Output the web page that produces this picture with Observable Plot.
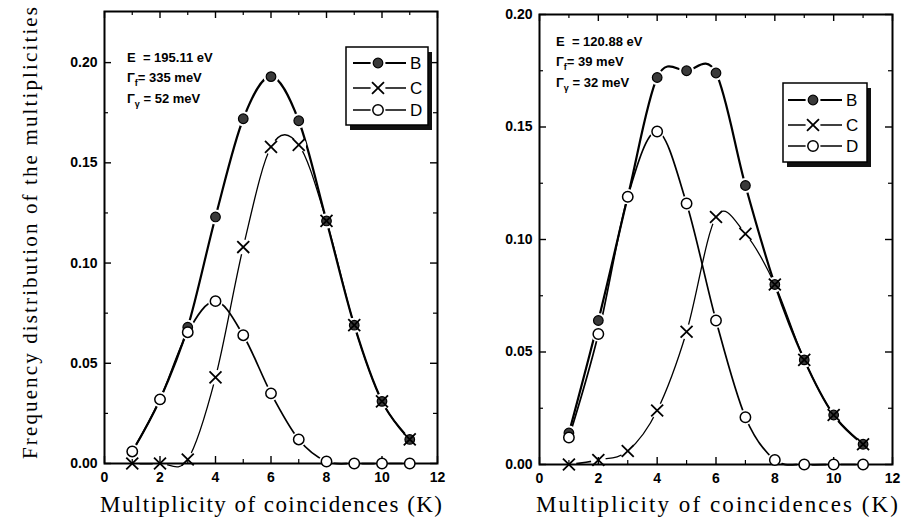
<!DOCTYPE html>
<html>
<head>
<meta charset="utf-8">
<script src="https://cdn.jsdelivr.net/npm/d3@7"></script>
<script src="https://cdn.jsdelivr.net/npm/@observablehq/plot@0.6"></script>
<style>
  body { margin: 0; background: #fff; }
  #chart { position: relative; width: 908px; height: 519px; overflow: hidden; background: #fff; }
  #chart > svg { position: absolute; top: 0; }
  #overlay { left: 0; pointer-events: none; }
</style>
</head>
<body>
<div id="chart"></div>
<script>
// ---------------- data ----------------
const K = [1, 2, 3, 4, 5, 6, 7, 8, 9, 10, 11];
const seriesNames = ["B", "C", "D"];

// Left panel: E = 195.11 eV
const leftB = [0.006, 0.032, 0.068, 0.123, 0.172, 0.193, 0.171, 0.121, 0.069, 0.031, 0.012];
const leftC = [0.000, 0.000, 0.002, 0.043, 0.108, 0.158, 0.159, 0.121, 0.069, 0.031, 0.012];
const leftD = [0.006, 0.032, 0.0655, 0.081, 0.064, 0.035, 0.012, 0.001, 0.000, 0.000, 0.000];

// Right panel: E = 120.88 eV
const rightB = [0.014, 0.064, 0.119, 0.172, 0.175, 0.174, 0.124, 0.080, 0.0465, 0.022, 0.009];
const rightC = [0.000, 0.002, 0.006, 0.024, 0.059, 0.110, 0.1025, 0.080, 0.0465, 0.022, 0.009];
const rightD = [0.012, 0.058, 0.119, 0.148, 0.116, 0.064, 0.021, 0.002, 0.000, 0.000, 0.000];

const xTickLabels = [0, 2, 4, 6, 8, 10, 12];
const xMinorTicks = [1, 3, 5, 7, 9, 11];
const yTickLabels = [0.00, 0.05, 0.10, 0.15, 0.20];
const yMinorTicks = [0.025, 0.075, 0.125, 0.175];

const leftParams = [["E", "", "  = 195.11 eV"], ["Γ", "f", "= 335 meV"], ["Γ", "γ", " = 52 meV"]];
const rightParams = [["E", "", "  = 120.88 eV"], ["Γ", "f", "= 39 meV"], ["Γ", "γ", " = 32 meV"]];

const xTitle = "Multiplicity of coincidences (K)";
const yTitle = "Frequency distribution of the multiplicities";

// ---------------- styles / layout ----------------
const seriesStyle = {
  B: {lineWidth: 2.2, symbol: "circle", r: 4.8, fill: "#3a3a3a", stroke: "#000", sw: 1.2},
  C: {lineWidth: 1.3, symbol: "times", r: 5.5, fill: "none", stroke: "#000", sw: 1.8},
  D: {lineWidth: 1.7, symbol: "circle", r: 5.2, fill: "#fff", stroke: "#000", sw: 1.5}
};

const panels = [
  {values: {B: leftB, C: leftC, D: leftD}, params: leftParams, ymax: 0.2255,
   left: 0, width: 480, ml: 104, mr: 43, mt: 11, mb: 56,
   ann: {x: 127, y: 62, dy: 20.3},
   legend: {x: 346, y: 47, w: 82, h: 78, rows: [63, 88, 110], lx0: 353, lx1: 406, mx: 378, tx: 410},
   xt: {cx: 271, len: 342}},
  {values: {B: rightB, C: rightC, D: rightD}, params: rightParams, ymax: 0.2,
   left: 480, width: 428, ml: 59, mr: 16, mt: 14, mb: 55,
   ann: {x: 556, y: 45.5, dy: 20.5},
   legend: {x: 783, y: 83, w: 84, h: 79, rows: [100, 125, 146], lx0: 788, lx1: 842, mx: 813, tx: 846},
   xt: {cx: 717, len: 362}}
];

const H = 519;
const chart = document.getElementById("chart");

for (const p of panels) {
  const fw = p.width - p.ml - p.mr;
  const fh = H - p.mt - p.mb;
  const data = seriesNames.map(s => K.map((k, i) => ({k, v: p.values[s][i], s})));
  const all = data.flat();
  const major = 7, minor = 4;
  const markerOrder = ["B", "C", "D"];

  const plot = Plot.plot({
    width: p.width, height: H,
    marginLeft: p.ml, marginRight: p.mr, marginTop: p.mt, marginBottom: p.mb,
    style: "font: bold 14px 'Liberation Sans', Arial, sans-serif; background: transparent; color: #000; overflow: visible;",
    x: {domain: [0, 12]},
    y: {domain: [0, p.ymax]},
    marks: [
      // curves
      ...["D", "C", "B"].map(s => Plot.line(data[seriesNames.indexOf(s)], {
        x: "k", y: "v", curve: "cardinal", stroke: "#000", strokeWidth: seriesStyle[s].lineWidth
      })),
      // white halos that break the lines around markers
      Plot.dot(all, {x: "k", y: "v", r: 7.5, fill: "#fff", stroke: "none"}),
      // frame & ticks
      Plot.frame({stroke: "#000", strokeWidth: 2}),
      Plot.ruleX(xTickLabels, {x: d => d, insetTop: fh - major, stroke: "#000", strokeWidth: 1.4}),
      Plot.ruleX(xMinorTicks, {x: d => d, insetTop: fh - minor, stroke: "#000", strokeWidth: 1.2}),
      Plot.ruleX(xTickLabels, {x: d => d, insetBottom: fh - major, stroke: "#000", strokeWidth: 1.4}),
      Plot.ruleX(xMinorTicks, {x: d => d, insetBottom: fh - minor, stroke: "#000", strokeWidth: 1.2}),
      Plot.ruleY(yTickLabels, {y: d => d, insetRight: fw - major, stroke: "#000", strokeWidth: 1.4}),
      Plot.ruleY(yMinorTicks, {y: d => d, insetRight: fw - minor, stroke: "#000", strokeWidth: 1.2}),
      Plot.ruleY(yTickLabels, {y: d => d, insetLeft: fw - major, stroke: "#000", strokeWidth: 1.4}),
      Plot.ruleY(yMinorTicks, {y: d => d, insetLeft: fw - minor, stroke: "#000", strokeWidth: 1.2}),
      Plot.axisX(xTickLabels, {tickSize: 0, tickPadding: 9, label: null, tickFormat: d => String(d), fontSize: 14, fontWeight: "bold"}),
      Plot.axisY(yTickLabels, {tickSize: 0, tickPadding: 7, label: null, tickFormat: d3.format(".2f"), fontSize: 14, fontWeight: "bold"}),
      // markers
      ...markerOrder.map(s => {
        const st = seriesStyle[s];
        return Plot.dot(data[seriesNames.indexOf(s)], {
          x: "k", y: "v", symbol: st.symbol, r: st.r, fill: st.fill, stroke: st.stroke, strokeWidth: st.sw
        });
      })
    ]
  });
  plot.style.left = p.left + "px";
  chart.appendChild(plot);
}

// ---------------- overlay: titles, annotations, legends ----------------
const svg = d3.select(chart).append("svg")
  .attr("id", "overlay").attr("width", 908).attr("height", H);

const serif = "'Liberation Serif', 'DejaVu Serif', serif";
const sans = "'Liberation Sans', Arial, sans-serif";

// y title
svg.append("text")
  .attr("transform", "translate(37,233) rotate(-90)")
  .attr("text-anchor", "middle")
  .attr("font-family", serif).attr("font-size", 21)
  .attr("textLength", 452).attr("lengthAdjust", "spacing")
  .text(yTitle);

for (const p of panels) {
  // x title
  svg.append("text")
    .attr("x", p.xt.cx).attr("y", 512)
    .attr("text-anchor", "middle")
    .attr("font-family", serif).attr("font-size", 23)
    .attr("textLength", p.xt.len).attr("lengthAdjust", "spacing")
    .text(xTitle);

  // parameter annotations
  p.params.forEach((row, i) => {
    const t = svg.append("text")
      .attr("x", p.ann.x).attr("y", p.ann.y + i * p.ann.dy)
      .attr("font-family", sans).attr("font-size", 13).attr("font-weight", "bold")
      .style("white-space", "pre");
    t.append("tspan").text(row[0]);
    if (row[1]) {
      t.append("tspan").attr("font-size", 9).attr("dy", 4).text(row[1]);
      t.append("tspan").attr("dy", -4).text(row[2]);
    } else {
      t.append("tspan").text(row[2]);
    }
  });

  // legend
  const L = p.legend;
  svg.append("rect").attr("x", L.x + 4).attr("y", L.y + 5).attr("width", L.w).attr("height", L.h).attr("fill", "#111");
  svg.append("rect").attr("x", L.x).attr("y", L.y).attr("width", L.w).attr("height", L.h)
    .attr("fill", "#fff").attr("stroke", "#000").attr("stroke-width", 1.5);
  seriesNames.forEach((s, i) => {
    const st = seriesStyle[s];
    const y = L.rows[i];
    svg.append("line").attr("x1", L.lx0).attr("x2", L.lx1).attr("y1", y).attr("y2", y)
      .attr("stroke", "#000").attr("stroke-width", st.lineWidth);
    const sym = st.symbol === "times" ? d3.symbolTimes : d3.symbolCircle;
    svg.append("circle").attr("cx", L.mx).attr("cy", y).attr("r", 7.5).attr("fill", "#fff");
    svg.append("path")
      .attr("transform", `translate(${L.mx},${y})`)
      .attr("d", d3.symbol(sym, Math.PI * st.r * st.r)())
      .attr("fill", st.fill).attr("stroke", st.stroke).attr("stroke-width", st.sw);
    svg.append("text").attr("x", L.tx).attr("y", y + 6)
      .attr("font-family", sans).attr("font-size", 17)
      .text(s);
  });
}
</script>
</body>
</html>
